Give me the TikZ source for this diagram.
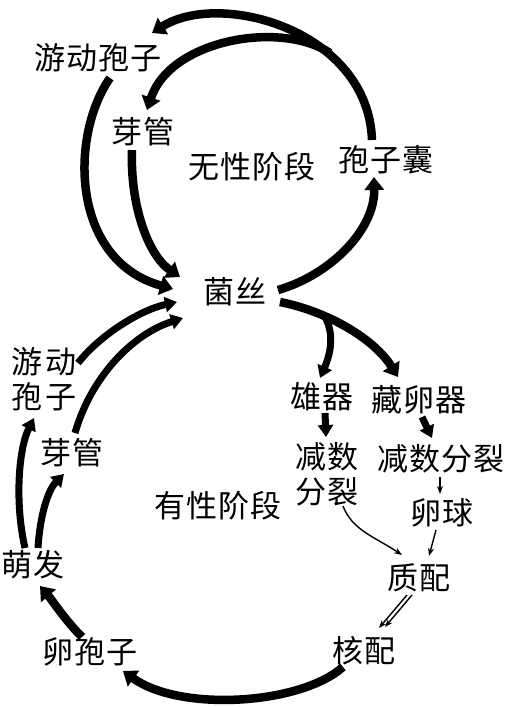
\documentclass[tikz,border=0pt]{standalone}
\usepackage{fontspec}
\newfontfamily\cjk{Noto Sans CJK SC}[LetterSpace=4]
\usetikzlibrary{arrows.meta,calc}
\begin{document}
\begin{tikzpicture}[x=1pt,y=-1pt,
  lbl/.style={font=\cjk\fontsize{31}{35}\selectfont, inner sep=0pt, align=center},
  bigarrow/.style={line width=8.5pt, -{Triangle[length=13pt,width=19pt]}},
  midarrow/.style={line width=7pt, -{Triangle[length=12pt,width=15pt]}},
  smallarrow/.style={line width=1.4pt, -{Stealth[length=8pt,width=6pt]}}]
\fill[white] (0,0) rectangle (507,707);
\useasboundingbox (0,0) rectangle (507,707);
% labels
\node[lbl] (zsA) at (98,58) {游动孢子};
\node[lbl] (ygA) at (143,132) {芽管};
\node[lbl] (wx) at (252,167) {无性阶段};
\node[lbl] (bzn) at (386,160) {孢子囊};
\node[lbl] (js) at (235,292) {菌丝};
\node[lbl] (zsB) at (44,379) {游\hspace{3pt}动\\孢\hspace{3pt}子};
\node[lbl] (ygB) at (72,453) {芽管};
\node[lbl] (yx) at (218,506) {有性阶段};
\node[lbl] (xq) at (322,397) {雄器};
\node[lbl] (clq) at (419,400) {藏卵器};
\node[lbl] (jslA) at (327,474) {减数\\分裂};
\node[lbl] (jslB) at (441,459) {减数分裂};
\node[lbl] (lq) at (442,513) {卵球};
\node[lbl] (zp) at (419,578) {质配};
\node[lbl] (mf) at (33,565) {萌发};
\node[lbl] (lbz) at (90,652) {卵孢子};
\node[lbl] (hp) at (364,651) {核配};
\coordinate (brA) at (330,53);
\coordinate (brB) at (325,317);
% asexual cycle
\draw[bigarrow] ($(bzn)+(-14,-20)$) .. controls (368,30) and (220,-10) .. ($(zsA)+(54,-25)$);
\draw[bigarrow] (brA) .. controls (280,20) and (170,40) .. ($(ygA)+(4,-22)$);
\draw[bigarrow] ($(zsA)+(12,20)$) .. controls (70,135) and (70,260) .. ($(js)+(-62,-3)$);
\draw[bigarrow] ($(ygA)+(-11,18)$) .. controls (130,205) and (148,255) .. ($(js)+(-55,-15)$);
\draw[bigarrow] ($(js)+(43,-2)$) .. controls (330,275) and (375,230) .. ($(bzn)+(-12,17)$);
% sexual cycle, left side
\draw[midarrow] ($(zsB)+(34,-16)$) .. controls (100,335) and (140,310) .. ($(js)+(-58,10)$);
\draw[midarrow] ($(ygB)+(3,-20)$) .. controls (90,380) and (130,335) .. ($(js)+(-52,26)$);
\draw[midarrow] ($(mf)+(-8,-17)$) .. controls (15,505) and (18,450) .. ($(zsB)+(-10,39)$);
\draw[midarrow] ($(mf)+(5,-17)$) .. controls (40,515) and (48,490) .. ($(ygB)+(-8,21)$);
\draw[bigarrow] ($(lbz)+(-8,-15)$) .. controls (65,620) and (52,600) .. ($(mf)+(7,21)$);
\draw[bigarrow] ($(hp)+(-21,16)$) .. controls (300,705) and (180,712) .. ($(lbz)+(33,19)$);
% sexual cycle, right side
\draw[bigarrow] ($(js)+(45,10)$) .. controls (330,312) and (375,340) .. ($(clq)+(-21,-23)$);
\draw[midarrow] (brB) .. controls (335,335) and (330,355) .. ($(xq)+(-2,-19)$);
\draw[midarrow] ($(xq)+(3,16)$) -- ($(jslA)+(-1,-37)$);
\draw[midarrow] ($(clq)+(3,17)$) -- ($(jslB)+(-9,-21)$);
\draw[smallarrow] ($(jslB)+(-1,18)$) -- ($(lq)+(-2,-19)$);
\draw[smallarrow] ($(lq)+(-6,17)$) -- ($(zp)+(10,-22)$);
\draw[smallarrow] ($(jslA)+(16,32)$) .. controls (352,530) and (375,537) .. ($(zp)+(-17,-23)$);
\draw[smallarrow] ($(zp)+(-12,17)$) -- ($(hp)+(15,-23)$);
\draw[smallarrow] ($(zp)+(-7,17)$) -- ($(hp)+(21,-24)$);
\end{tikzpicture}
\end{document}
